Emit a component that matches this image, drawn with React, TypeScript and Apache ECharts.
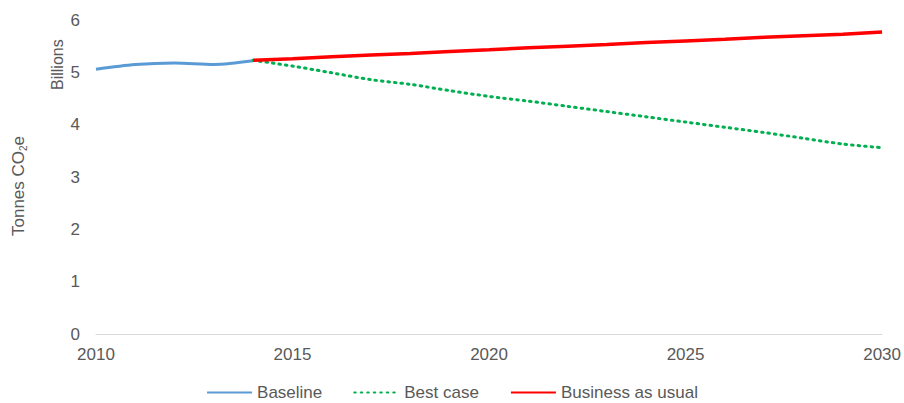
import React, { useEffect, useRef } from "react";
import * as echarts from "echarts";

const baselineYears = [2010, 2011, 2012, 2013, 2014];
const baselineValues = [5.06, 5.15, 5.18, 5.15, 5.22];

const projYears = [2014, 2015, 2016, 2017, 2018, 2019, 2020, 2021, 2022, 2023, 2024, 2025, 2026, 2027, 2028, 2029, 2030];
const bestCaseValues = [5.23, 5.12, 4.99, 4.86, 4.77, 4.65, 4.54, 4.45, 4.35, 4.25, 4.15, 4.05, 3.95, 3.85, 3.74, 3.63, 3.56];
const bauValues = [5.23, 5.26, 5.3, 5.33, 5.36, 5.4, 5.43, 5.47, 5.5, 5.53, 5.57, 5.6, 5.63, 5.67, 5.7, 5.73, 5.77];

const seriesNames = ["Baseline", "Best case", "Business as usual"];

const FONT = "Liberation Sans";
const TXT = "#595959";

export default function App() {
  const ref = useRef<HTMLDivElement>(null);
  useEffect(() => {
    if (!ref.current) return;
    const chart = echarts.init(ref.current, undefined, { renderer: "svg" });
    const pair = (ys: number[], vs: number[]) => ys.map((y, i) => [y, vs[i]]);
    chart.setOption({
      animation: false,
      backgroundColor: "#ffffff",
      textStyle: { fontFamily: FONT },
      grid: { left: 96, right: 21, top: 20, bottom: 69, containLabel: false },
      xAxis: {
        type: "value",
        min: 2010,
        max: 2030,
        interval: 5,
        axisLine: { show: true, lineStyle: { color: "#D9D9D9", width: 1 } },
        axisTick: { show: false },
        splitLine: { show: false },
        axisLabel: { color: TXT, fontSize: 17, margin: 12, fontFamily: FONT, formatter: (v: number) => String(v) },
      },
      yAxis: {
        type: "value",
        min: 0,
        max: 6,
        interval: 1,
        axisLine: { show: false },
        axisTick: { show: false },
        splitLine: { show: false },
        axisLabel: { color: TXT, fontSize: 17, margin: 16, fontFamily: FONT },
      },
      legend: {
        bottom: -3,
        left: "center",
        itemWidth: 45,
        itemHeight: 14,
        itemGap: 31,
        itemStyle: { opacity: 0 },
        textStyle: { color: TXT, fontSize: 17, fontFamily: FONT },
        data: seriesNames,
      },
      graphic: [
        {
          type: "text",
          x: 9,
          y: 236,
          rotation: Math.PI / 2,
          style: {
            text: "{n|Tonnes CO}{s|2}{n|e}",
            rich: {
              n: { fontSize: 17, fill: TXT, fontFamily: FONT },
              s: { fontSize: 10, fill: TXT, fontFamily: FONT, padding: [9, 0, 0, 0] },
            },
            fill: TXT,
          },
        },
        {
          type: "text",
          x: 49,
          y: 90,
          rotation: Math.PI / 2,
          style: { text: "Billions", fontSize: 16, fill: TXT, fontFamily: FONT },
        },
      ],
      series: [
        {
          name: seriesNames[0],
          type: "line",
          data: pair(baselineYears, baselineValues),
          showSymbol: false,
          symbol: "none",
          smooth: 0.3,
          lineStyle: { color: "#5B9BD5", width: 3 },
          itemStyle: { color: "#5B9BD5" },
        },
        {
          name: seriesNames[1],
          type: "line",
          data: pair(projYears, bestCaseValues),
          showSymbol: false,
          symbol: "none",
          smooth: 0.3,
          lineStyle: { color: "#00B050", width: 3, type: [1.5, 5], cap: "round" },
          itemStyle: { color: "#00B050" },
        },
        {
          name: seriesNames[2],
          type: "line",
          data: pair(projYears, bauValues),
          showSymbol: false,
          symbol: "none",
          lineStyle: { color: "#FF0000", width: 3.5 },
          itemStyle: { color: "#FF0000" },
        },
      ],
    });
    return () => chart.dispose();
  }, []);
  return <div ref={ref} style={{ width: 904, height: 403, position: "absolute", left: 0, top: 0 }} />;
}
